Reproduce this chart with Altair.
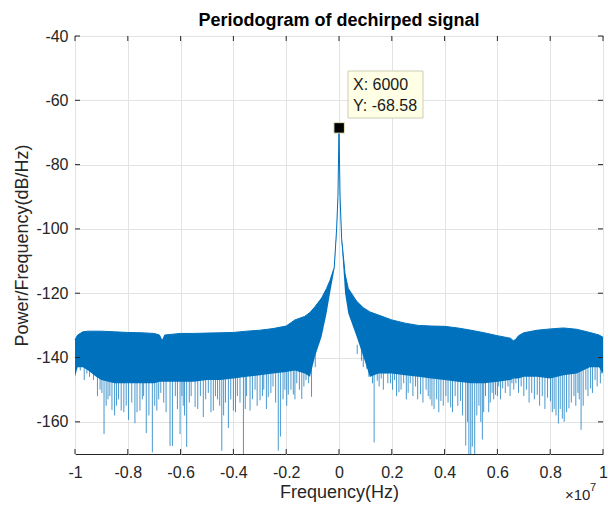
import altair as alt
import pandas as pd

# ---------------- data ----------------
# frequency in units of 1e7 Hz
FREQ = [-1.0, -0.99, -0.97, -0.95, -0.92, -0.9, -0.85, -0.8, -0.75, -0.7, -0.68, -0.67,
        -0.66, -0.6, -0.55, -0.5, -0.45, -0.4, -0.35, -0.3, -0.25, -0.2, -0.167, -0.13,
        -0.11, -0.091, -0.066, -0.047, -0.034, -0.018, -0.009, -0.004, 0.0, 0.004, 0.01,
        0.023, 0.035, 0.067, 0.092, 0.117, 0.15, 0.2, 0.25, 0.3, 0.35, 0.4, 0.45, 0.5,
        0.55, 0.6, 0.65, 0.66, 0.67, 0.68, 0.7, 0.75, 0.8, 0.85, 0.9, 0.95, 0.985, 1.0]
# upper edge of the noise band (dB/Hz)
TOP = [-134.5, -133, -132, -131.8, -131.8, -131.8, -132, -132.2, -132.3, -132.5, -133, -134.8,
       -133, -132.5, -132.5, -132.4, -132.3, -132.2, -131.8, -131.5, -131, -130.2, -128.3, -127.2,
       -126, -124.2, -121.5, -118.5, -116, -112, -100, -90, -68.58, -90, -103,
       -114, -118.5, -122.5, -124.5, -125.8, -126.8, -128.3, -129.3, -130, -130.2, -130.3, -130.8, -131.5,
       -132.3, -133.2, -134, -134.8, -134.3, -133.2, -132.3, -131.5, -131.1, -130.8, -131.2, -132.2, -133, -133.7]
# lower edge of the dense part of the band (dB/Hz)
BOTTOM = [-146, -143, -143, -144, -146, -147, -148, -148, -148, -148, -147.5, -147.5,
          -147.5, -147.5, -147.5, -147, -147, -146.5, -146, -145.5, -145, -144.5, -144, -145,
          -146, -139.7, -133.5, -126.2, -120, -112.8, -101, -91, -70, -91, -104,
          -120, -126.2, -133.5, -139.7, -146, -145, -145, -145.5, -146, -146.5, -147, -147.5, -148,
          -148, -147.5, -147, -146.5, -146.5, -146.5, -146, -146, -146.5, -145.5, -145, -143, -143, -145]

# deep downward spikes: position and depth of the tip
SPIKE_FREQ = [-0.98, -0.955, -0.93, -0.905, -0.89, -0.875, -0.86, -0.843, -0.825, -0.806,
              -0.797, -0.773, -0.754, -0.74, -0.73, -0.707, -0.69, -0.683, -0.664, -0.64,
              -0.631, -0.62, -0.602, -0.59, -0.577, -0.56, -0.545, -0.525, -0.514, -0.495,
              -0.476, -0.46, -0.444, -0.43, -0.419, -0.40, -0.385, -0.362, -0.35, -0.337,
              -0.318, -0.299, -0.285, -0.268, -0.25, -0.23, -0.222, -0.205, -0.192, -0.173,
              -0.16, -0.141, -0.125, -0.104, -0.09,
              0.069, 0.085, 0.105, 0.12, 0.133, 0.145, 0.16, 0.176, 0.195, 0.21,
              0.227, 0.245, 0.27, 0.29, 0.309, 0.33, 0.345, 0.36, 0.386, 0.405,
              0.423, 0.44, 0.46, 0.48, 0.492, 0.499, 0.505, 0.514, 0.53, 0.543,
              0.555, 0.567, 0.58, 0.593, 0.605, 0.62, 0.64, 0.655, 0.67, 0.69,
              0.71, 0.73, 0.751, 0.77, 0.79, 0.801, 0.815, 0.831, 0.846, 0.853,
              0.871, 0.89, 0.905, 0.917, 0.935, 0.953, 0.97, 0.99, 0.995]
SPIKE_DB = [-144, -145, -147, -150, -163.8, -153, -156.3, -155, -156.5, -155,
            -159.4, -160.4, -156.5, -152, -163.5, -169.5, -156.5, -153, -154, -167.5,
            -167.5, -152, -163.8, -155, -167.8, -152, -155.4, -152, -158.5, -151,
            -156.5, -153, -169, -154, -161.9, -156.5, -152, -170, -152, -156.5,
            -150, -153.3, -150, -152.3, -149, -169, -164.6, -150, -151.5, -151.5,
            -148, -152.9, -147, -152.2, -143,
            -138.9, -141, -143.5, -146, -166.4, -147.2, -146.5, -145, -148, -147,
            -150.8, -148, -148, -149, -151.4, -150, -153, -156, -153.5, -152,
            -155.5, -152, -153.5, -167.4, -170, -170, -167.7, -170, -155, -165.5,
            -152, -157, -151, -151.6, -149, -149.6, -149, -148, -148, -149,
            -150, -151, -151.6, -152, -152.5, -153.6, -156, -160.5, -159, -160,
            -155.8, -152, -151, -162.5, -150, -149.6, -147, -148, -145]

# shallower spikes that make the fuzzy lower edge of the band
MINOR_FREQ = [-0.965, -0.945, -0.915, -0.898, -0.882, -0.868, -0.85, -0.835, -0.815, -0.785,
              -0.765, -0.745, -0.72, -0.698, -0.675, -0.655, -0.612, -0.595, -0.585, -0.567,
              -0.535, -0.505, -0.485, -0.468, -0.452, -0.437, -0.41, -0.392, -0.375, -0.355,
              -0.328, -0.31, -0.29, -0.275, -0.258, -0.24, -0.212, -0.198, -0.182, -0.167,
              -0.15, -0.133, -0.115,
              0.092, 0.113, 0.127, 0.152, 0.168, 0.185, 0.203, 0.218, 0.235, 0.255,
              0.262, 0.28, 0.298, 0.318, 0.338, 0.352, 0.37, 0.378, 0.395, 0.413,
              0.43, 0.45, 0.468, 0.487, 0.522, 0.537, 0.548, 0.573, 0.586, 0.6,
              0.612, 0.63, 0.648, 0.662, 0.68, 0.7, 0.72, 0.74, 0.76, 0.78,
              0.808, 0.822, 0.838, 0.862, 0.88, 0.897, 0.91, 0.925, 0.943, 0.96, 0.978]
MINOR_DB = [-147, -146, -152, -151, -155, -152, -158, -153, -157, -154,
            -157, -153, -158, -155, -151, -157, -156, -152, -158, -154,
            -156, -153, -157, -152, -155, -158, -153, -157, -154, -156,
            -153, -155, -152, -156, -151, -154, -153, -155, -150, -153,
            -150, -149, -148,
            -143, -146, -148, -149, -150, -148, -150, -152, -150, -153,
            -151, -152, -153, -154, -152, -155, -153, -157, -155, -154,
            -157, -155, -158, -160, -158, -160, -157, -154, -153, -152,
            -153, -151, -152, -150, -151, -152, -154, -153, -155, -156,
            -157, -158, -156, -157, -154, -155, -153, -155, -152, -151, -149]

X_TICKS = [-1, -0.8, -0.6, -0.4, -0.2, 0, 0.2, 0.4, 0.6, 0.8, 1]
Y_TICKS = [-160, -140, -120, -100, -80, -60, -40]

TIP_X = [0.0006]          # 6000 Hz in units of 1e7 Hz
TIP_Y = [-68.58]
TIP_TEXT = ["X: 6000", "Y: -68.58"]

# ---------------- styling ----------------
W, H = 528, 418
BLUE = "#0072BD"
INK = "#262626"
FONT = "Liberation Sans"

xs = alt.Scale(domain=[-1, 1], nice=False, zero=False)
ys = alt.Scale(domain=[-170, -40], nice=False, zero=False)

x_axis = alt.Axis(values=X_TICKS, title="Frequency(Hz)", grid=True, gridColor="#e3e3e3",
                  gridWidth=1, ticks=False, domain=False, labelFont=FONT, labelFontSize=16,
                  labelColor=INK, labelPadding=10, labelExpr="toString(datum.value)",
                  labelFlush=False, labelOverlap=False, titleFont=FONT, titleFontSize=18,
                  titleFontWeight="normal", titleColor=INK, titlePadding=3)
y_axis = alt.Axis(values=Y_TICKS, title="Power/Frequency(dB/Hz)", grid=True, gridColor="#e3e3e3",
                  gridWidth=1, ticks=False, domain=False, labelFont=FONT, labelFontSize=16,
                  labelColor=INK, labelPadding=7, labelExpr="toString(datum.value)",
                  labelFlush=False, labelOverlap=False, titleFont=FONT, titleFontSize=18,
                  titleFontWeight="normal", titleColor=INK, titlePadding=4)


def X(field):
    return alt.X(field, scale=xs, axis=x_axis, title="Frequency(Hz)")


def Y(field):
    return alt.Y(field, scale=ys, axis=y_axis, title="Power/Frequency(dB/Hz)")


band_df = pd.DataFrame({"f": FREQ, "top": TOP, "bottom": BOTTOM})
spike_df = pd.DataFrame({"f": SPIKE_FREQ + MINOR_FREQ, "tip": SPIKE_DB + MINOR_DB})
xt_df = pd.DataFrame({"v": X_TICKS})
yt_df = pd.DataFrame({"v": Y_TICKS})
tip_df = pd.DataFrame({"f": TIP_X, "db": TIP_Y})
one = pd.DataFrame({"a": [0]})

band = alt.Chart(band_df).mark_area(color=BLUE, opacity=1).encode(
    x=X("f:Q"), y=Y("top:Q"), y2="bottom:Q")
topline = alt.Chart(band_df).mark_line(color=BLUE, strokeWidth=1).encode(
    x=X("f:Q"), y=Y("top:Q"))
spikes = alt.Chart(spike_df).transform_calculate(base="-136").mark_rule(
    color=BLUE, opacity=0.72, strokeWidth=1, clip=True
).encode(x=X("f:Q"), y=Y("tip:Q"), y2="base:Q")

xt_bottom = alt.Chart(xt_df).mark_rule(color=INK).encode(
    x=X("v:Q"), y=alt.value(H), y2=alt.value(H - 5))
xt_top = alt.Chart(xt_df).mark_rule(color=INK).encode(
    x=X("v:Q"), y=alt.value(0), y2=alt.value(5))
yt_left = alt.Chart(yt_df).mark_rule(color=INK).encode(
    y=Y("v:Q"), x=alt.value(0), x2=alt.value(5))
yt_right = alt.Chart(yt_df).mark_rule(color=INK).encode(
    y=Y("v:Q"), x=alt.value(W), x2=alt.value(W - 5))

marker = alt.Chart(tip_df).mark_square(size=110, fill="black", stroke="#E6E6C0",
                                       strokeWidth=1, opacity=1).encode(
    x=X("f:Q"), y=Y("db:Q"))

tip_box = alt.Chart(one).mark_rect(fill="#FFFFE6", stroke="#CDCDB6", strokeWidth=1).encode(
    x=alt.value(273), x2=alt.value(348), y=alt.value(35), y2=alt.value(82))
tip_l1 = alt.Chart(one).mark_text(align="left", baseline="alphabetic", font=FONT,
                                  fontSize=16, color="#1a1a1a").encode(
    x=alt.value(278), y=alt.value(54), text=alt.value(TIP_TEXT[0]))
tip_l2 = alt.Chart(one).mark_text(align="left", baseline="alphabetic", font=FONT,
                                  fontSize=16, color="#1a1a1a").encode(
    x=alt.value(278), y=alt.value(75), text=alt.value(TIP_TEXT[1]))

exp_base = alt.Chart(one).mark_text(align="left", baseline="alphabetic", font=FONT,
                                    fontSize=15, color=INK).encode(
    x=alt.value(490), y=alt.value(464), text=alt.value("\u00d710"))
exp_pow = alt.Chart(one).mark_text(align="left", baseline="alphabetic", font=FONT,
                                   fontSize=11, color=INK).encode(
    x=alt.value(515), y=alt.value(455), text=alt.value("7"))

chart = alt.layer(
    band, topline, spikes, xt_bottom, xt_top, yt_left, yt_right,
    marker, tip_box, tip_l1, tip_l2, exp_base, exp_pow
).properties(
    width=W, height=H,
    title=alt.TitleParams("Periodogram of dechirped signal", font=FONT, fontSize=18,
                          fontWeight="bold", color="#000000", offset=-2, anchor="middle"),
    padding={"left": 75, "top": 36, "right": 5, "bottom": 54},
    autosize=alt.AutoSizeParams(type="none"),
    background="white",
).configure_view(stroke=INK, strokeWidth=1)

chart.save("out.html", embed_options={"renderer": "svg", "actions": False})
